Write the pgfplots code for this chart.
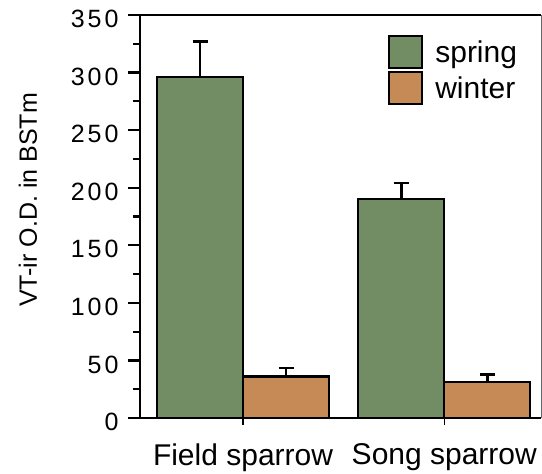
\documentclass[border=0pt]{standalone}
\usepackage{fontspec}
\setmainfont{Liberation Sans}
\newfontfamily\tickfont[LetterSpace=12]{Liberation Sans}
\usepackage{pgfplots}
\pgfplotsset{compat=1.18}
\definecolor{springgreen}{RGB}{114,141,99}
\definecolor{winterorange}{RGB}{197,138,86}
\begin{document}
\begin{tikzpicture}
\begin{axis}[
  scale only axis,
  width=401.5pt, height=403pt,
  xmin=-0.512, xmax=1.483,
  ymin=0, ymax=350,
  axis lines=left,
  axis line style={-, line width=2.6pt, black},
  ytick={0,50,...,350},
  minor ytick={25,75,...,325},
  xtick={0,1},
  xticklabels={Field sparrow, Song sparrow},
  tick align=outside,
  major tick length=12pt,
  minor tick length=7pt,
  every tick/.style={black, line width=2.2pt},
  xtick style={/pgfplots/major tick length=7pt, line width=1.5pt},
  /pgf/number format/assume math mode=true,
  yticklabel style={font=\tickfont\fontsize{25}{27}\selectfont, xshift=-6pt, yshift=-4pt},
  xticklabel style={font=\fontsize{30}{34}\selectfont, yshift=-10pt},
  ylabel={VT-ir O.D. in BSTm},
  ylabel style={font=\fontsize{25}{28}\selectfont, at={(axis description cs:-0.279,0.541)}, anchor=center},
  ybar=0pt,
  bar width=86pt,
  legend style={draw=none, fill=none, at={(axis description cs:0.618,0.95)}, anchor=north west,
    font=\fontsize{30}{34}\selectfont, row sep=2pt, inner sep=0pt},
  legend cell align=left,
  legend image code/.code={\draw[#1, line width=1.8pt, draw=black] (0pt,-16pt) rectangle (33pt,16pt); \path (43pt,0pt);},
  clip=false,
]
\addplot[fill=springgreen, draw=black, line width=2.2pt,
  error bars/.cd, y dir=plus, y explicit,
  error bar style={line width=2.6pt, black},
  error mark options={rotate=90, mark size=7.5pt, line width=2.6pt, black}]
  coordinates {(0,296) +- (0,31) (1,190) +- (0,14)};
\addplot[fill=winterorange, draw=black, line width=2.2pt,
  error bars/.cd, y dir=plus, y explicit,
  error bar style={line width=2.6pt, black},
  error mark options={rotate=90, mark size=7.5pt, line width=2.6pt, black}]
  coordinates {(0,36) +- (0,7.5) (1,31) +- (0,7)};
\legend{spring, winter}
\draw[line width=2.6pt, black] (rel axis cs:0,1) -- (rel axis cs:1,1);
\draw[line width=0.8pt, black!60] (rel axis cs:1,0) -- (rel axis cs:1,1);
\end{axis}
\pgfresetboundingbox
\path (-140pt,-56pt) rectangle (402pt,418pt);
\end{tikzpicture}
\end{document}
